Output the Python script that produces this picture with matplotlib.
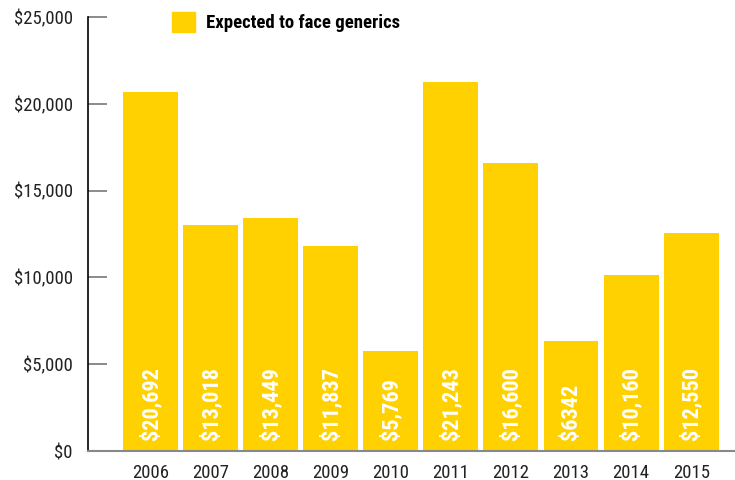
import matplotlib
matplotlib.use('Agg')
import matplotlib.pyplot as plt
from matplotlib.patches import Patch
from matplotlib.ticker import FuncFormatter

# values
years = ["2006", "2007", "2008", "2009", "2010", "2011", "2012", "2013", "2014", "2015"]
values = [20692, 13018, 13449, 11837, 5769, 21243, 16600, 6342, 10160, 12550]
bar_labels = ["$20,692", "$13,018", "$13,449", "$11,837", "$5,769",
              "$21,243", "$16,600", "$6342", "$10,160", "$12,550"]
y_ticks = [0, 5000, 10000, 15000, 20000, 25000]

yellow = "#FFD100"
plt.rcParams['font.family'] = ['Roboto Condensed', 'DejaVu Sans']

fig = plt.figure(figsize=(7.35, 4.8), dpi=100)
ax = fig.add_axes([88 / 735, 29 / 480, 1 - 88 / 735, 434 / 480])

x = list(range(len(years)))
bars = ax.bar(x, values, width=0.915, color=yellow)

for bar, lab in zip(bars, bar_labels):
    ax.annotate(lab, xy=(bar.get_x() + bar.get_width() / 2, 0),
                xytext=(0, 8), textcoords="offset points",
                rotation=90, ha='center', va='bottom',
                color='white', fontsize=16, weight='bold')

ax.set_xlim(-1.04, 9.73)
ax.set_ylim(0, 25000)
ax.set_xticks(x)
ax.set_xticklabels(years)
ax.set_yticks(y_ticks)
ax.yaxis.set_major_formatter(FuncFormatter(lambda v, p: f"${v:,.0f}"))

ax.tick_params(axis='y', direction='in', length=14, width=1.2, color='#777777',
               labelsize=13.5, pad=11, labelcolor='#222222')
ax.tick_params(axis='x', length=0, labelsize=13.5, pad=9, labelcolor='#222222')

for s in ['top', 'right']:
    ax.spines[s].set_visible(False)
ax.spines['left'].set_color('black')
ax.spines['left'].set_linewidth(1.2)
ax.spines['bottom'].set_color('#888888')
ax.spines['bottom'].set_linewidth(1.5)

fig.legend(handles=[Patch(color=yellow, label="Expected to face generics")],
           loc='upper left', bbox_to_anchor=(172 / 735, 1 - 12 / 480),
           frameon=False, borderpad=0, borderaxespad=0,
           handlelength=1.25, handleheight=1.25, handletextpad=0.55,
           prop={'size': 13.5, 'weight': 'bold'})

fig.savefig("out.png", dpi=100)
